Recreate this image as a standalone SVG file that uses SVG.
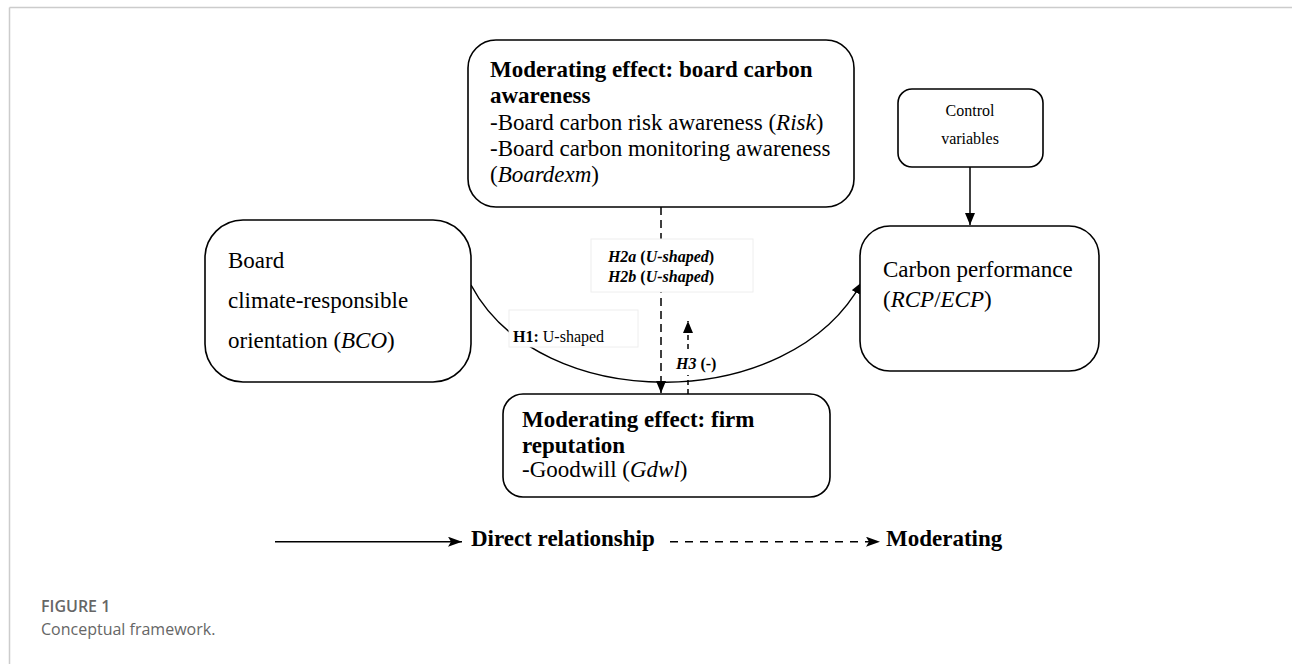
<svg xmlns="http://www.w3.org/2000/svg" width="1292" height="664" viewBox="0 0 1292 664">
<style>
.box{fill:#fff;stroke:#000;stroke-width:1.6}
.lbl{fill:#fff;stroke:#eeeeee;stroke-width:1}
.t{font-family:"Liberation Serif","Times New Roman",serif;fill:#000}
.b{font-weight:bold}
.i{font-style:italic}
.ln{fill:none;stroke:#000;stroke-width:1.5}
.cap{font-family:"Open Sans","Liberation Sans",sans-serif;fill:#666}
</style>
<defs>
<marker id="arr" markerUnits="userSpaceOnUse" viewBox="0 0 12 10" refX="12" refY="5" markerWidth="12" markerHeight="10" orient="auto">
<path d="M0,0 L12,5 L0,10 z" fill="#000"/>
</marker>
<marker id="leg" markerUnits="userSpaceOnUse" viewBox="0 0 14 10" refX="14" refY="5" markerWidth="14" markerHeight="10" orient="auto">
<path d="M0,0 L14,5 L0,10 L3,5 z" fill="#000"/>
</marker>
</defs>
<g id="frame">
<line x1="9.5" y1="7.5" x2="1292" y2="7.5" stroke="#cccccc" stroke-width="1.5"/>
<line x1="9.5" y1="7.5" x2="9.5" y2="664" stroke="#cccccc" stroke-width="1.5"/>
</g>
<g id="connectors">
<line class="ln" x1="661" y1="207" x2="661" y2="393" stroke-dasharray="8 5" marker-end="url(#arr)"/>
<line class="ln" x1="688" y1="394" x2="688" y2="321" stroke-dasharray="5 4" marker-end="url(#arr)"/>
<rect x="673" y="351" width="48" height="24" fill="#fff"/>
<path class="ln" d="M471,285 C540,415 790,415 862,282" stroke-width="2" marker-end="url(#arr)"/>
<line class="ln" x1="970" y1="167" x2="970" y2="225" marker-end="url(#arr)"/>
</g>
<g id="label-h2">
<rect class="lbl" x="591" y="239" width="162" height="53"/>
<text class="t b" x="661" y="262" font-size="16" text-anchor="middle"><tspan class="i">H2a</tspan> (<tspan class="i">U-shaped</tspan>)</text>
<text class="t b" x="661" y="282" font-size="16" text-anchor="middle"><tspan class="i">H2b</tspan> (<tspan class="i">U-shaped</tspan>)</text>
</g>
<g id="label-h1">
<rect class="lbl" x="509" y="310" width="129" height="37"/>
<text class="t" x="513" y="342" font-size="16"><tspan class="b">H1:</tspan> U-shaped</text>
</g>
<g id="label-h3">
<text class="t b" x="676" y="369" font-size="16"><tspan class="i">H3</tspan> (-)</text>
</g>
<g id="node-board-carbon">
<rect class="box" x="468" y="40" width="386" height="167" rx="28"/>
<text class="t b" x="490" y="77" font-size="23">Moderating effect: board carbon</text>
<text class="t b" x="490" y="103" font-size="23">awareness</text>
<text class="t" x="490" y="130" font-size="23">-Board carbon risk awareness (<tspan class="i">Risk</tspan>)</text>
<text class="t" x="490" y="156" font-size="23">-Board carbon monitoring awareness</text>
<text class="t" x="490" y="182" font-size="23">(<tspan class="i">Boardexm</tspan>)</text>
</g>
<g id="node-control">
<rect class="box" x="898" y="89" width="145" height="78" rx="14"/>
<text class="t" x="970" y="116" font-size="16" text-anchor="middle">Control</text>
<text class="t" x="970" y="144" font-size="16" text-anchor="middle">variables</text>
</g>
<g id="node-bco">
<rect class="box" x="205" y="220" width="266" height="162" rx="38"/>
<text class="t" x="228" y="268" font-size="23">Board</text>
<text class="t" x="228" y="308" font-size="23">climate-responsible</text>
<text class="t" x="228" y="348" font-size="23">orientation (<tspan class="i">BCO</tspan>)</text>
</g>
<g id="node-carbon">
<rect class="box" x="860" y="226" width="239" height="145" rx="30"/>
<text class="t" x="883" y="277" font-size="23">Carbon performance</text>
<text class="t" x="883" y="307" font-size="23">(<tspan class="i">RCP</tspan>/<tspan class="i">ECP</tspan>)</text>
</g>
<g id="node-firm">
<rect class="box" x="503" y="394" width="327" height="103" rx="20"/>
<text class="t b" x="522" y="427" font-size="23">Moderating effect: firm</text>
<text class="t b" x="522" y="453" font-size="23">reputation</text>
<text class="t" x="522" y="477" font-size="23">-Goodwill (<tspan class="i">Gdwl</tspan>)</text>
</g>
<g id="legend">
<line class="ln" x1="275" y1="541.7" x2="462" y2="541.7" marker-end="url(#leg)"/>
<text class="t b" x="471" y="546" font-size="23">Direct relationship</text>
<line class="ln" x1="670" y1="541.7" x2="880" y2="541.7" stroke-dasharray="8 7" marker-end="url(#leg)"/>
<text class="t b" x="886" y="546" font-size="23">Moderating</text>
</g>
<g id="caption">
<text class="cap" x="41" y="612" font-size="16" font-weight="600">FIGURE 1</text>
<text class="cap" x="41" y="635" font-size="16">Conceptual framework.</text>
</g>
</svg>
